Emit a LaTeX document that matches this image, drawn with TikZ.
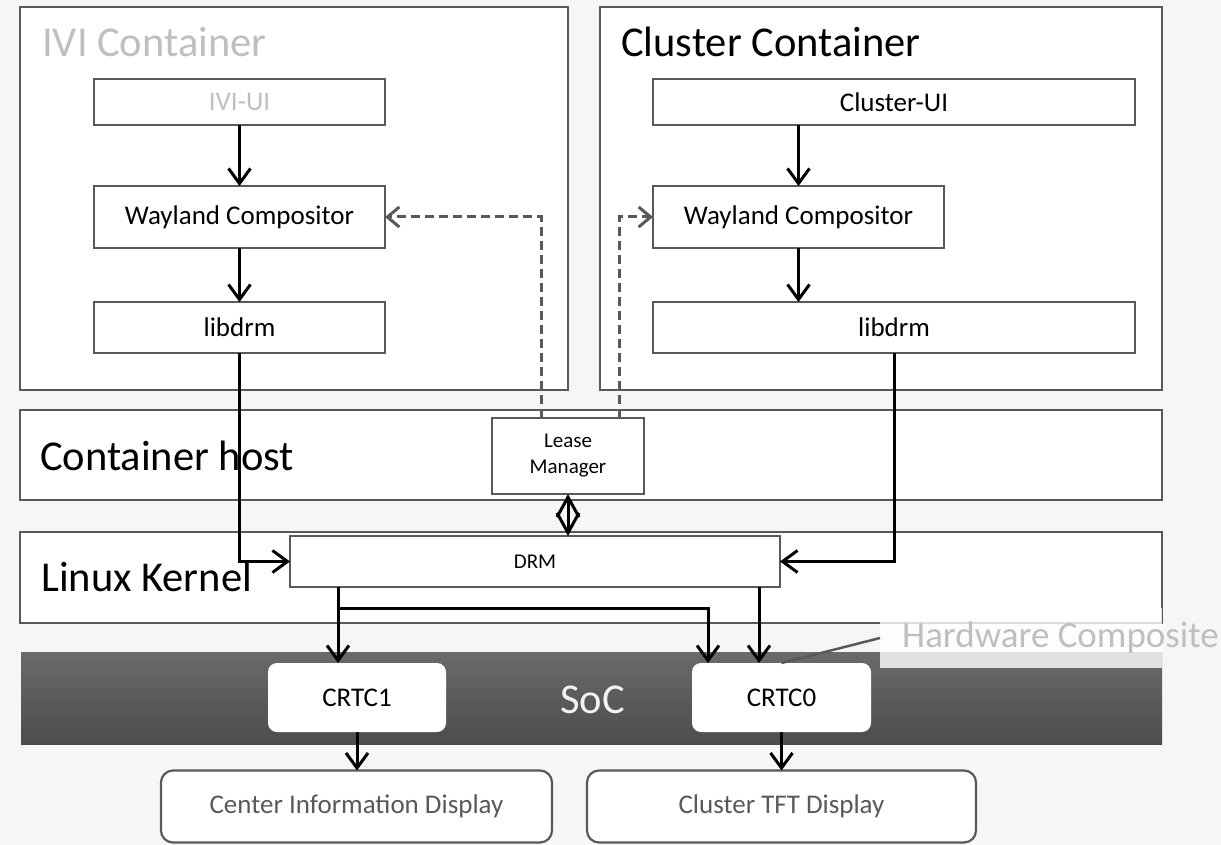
\documentclass[tikz,border=0pt]{standalone}
\usepackage{fontspec}
\setmainfont{Carlito}
\usetikzlibrary{arrows.meta}

\definecolor{edge}{HTML}{595959}
\definecolor{faint}{HTML}{BFBFBF}
\definecolor{paper}{HTML}{F6F6F6}
\definecolor{socTop}{HTML}{6A6A6A}
\definecolor{socBot}{HTML}{4C4C4C}
\definecolor{socText}{HTML}{F2F2F2}

\newcommand\bigtxt{\fontsize{42.5}{46}\selectfont}
\newcommand\midtxt{\fontsize{27}{31}\selectfont}
\newcommand\smalltxt{\fontsize{21}{26}\selectfont}

\begin{document}
\begin{tikzpicture}[x=1pt,y=-1pt,
  panel/.style={draw=edge, line width=2.2pt, fill=white, inner sep=0pt, outer sep=0pt, anchor=north west},
  block/.style={draw=edge, line width=2.2pt, fill=white, inner sep=0pt, outer sep=0pt, font=\midtxt},
  chip/.style={fill=white, rounded corners=9pt, inner sep=0pt, outer sep=0pt, font=\midtxt},
  screen/.style={draw=edge, line width=2.2pt, fill=white, rounded corners=12pt, inner sep=0pt, outer sep=0pt, font=\midtxt, text=edge},
  title/.style={anchor=base west, inner sep=0pt, font=\bigtxt},
  flow/.style={draw=black, line width=3pt, -{Straight Barb[length=15pt,width=22pt]}},
  lease/.style={draw=edge, line width=3pt, dash pattern=on 9pt off 5pt, -{Straight Barb[length=12pt,width=20pt]}},
  both/.style={draw=black, line width=3pt, {Straight Barb[length=20pt,width=22pt]}-{Straight Barb[length=20pt,width=22pt]}},
]
% page
\fill[paper] (0,0) rectangle (1221,845);
\useasboundingbox (0,0) rectangle (1221,845);

% layers
\node[panel, minimum width=548, minimum height=383] (ivi) at (20,7) {};
\node[panel, minimum width=562, minimum height=383] (cluster) at (600,7) {};
\node[panel, minimum width=1142, minimum height=90] (host) at (20,410) {};
\node[panel, minimum width=1142, minimum height=91] (kernel) at (20,532) {};
\node[anchor=north west, minimum width=1141, minimum height=92, inner sep=0pt,
      top color=socTop, bottom color=socBot] (soc) at (21,652) {};

\node[title, text=faint] (ivititle) at (42,57) {IVI Container};
\node[title] (cltitle) at (621,57) {Cluster Container};
\node[title] (hosttitle) at (40,470) {Container host};
\node[title] (kerneltitle) at (41,591) {Linux Kernel};
\node[title, text=socText] (soctitle) at (560,713) {SoC};

% components
\node[block, minimum width=291, minimum height=46, text=faint] (iviui) at (239.5,102) {IVI-UI};
\node[block, minimum width=291, minimum height=62] (iviwl) at (239.5,217) {Wayland Compositor};
\node[block, minimum width=291, minimum height=51] (ivilib) at (239.5,327.5) {libdrm};
\node[block, minimum width=482, minimum height=46] (clui) at (894,102) {Cluster-UI};
\node[block, minimum width=291, minimum height=62] (clwl) at (798.5,217) {Wayland Compositor};
\node[block, minimum width=482, minimum height=51] (cllib) at (894,327.5) {libdrm};
\node[block, minimum width=152, minimum height=76, font=\smalltxt, align=center] (lm) at (568,456) {Lease\\Manager};
\node[block, minimum width=490, minimum height=51, font=\smalltxt] (drm) at (535,561.5) {DRM};

\node[chip, minimum width=178, minimum height=69] (crtc1) at (357,697.5) {CRTC1};
\node[chip, minimum width=179, minimum height=69] (crtc0) at (781.5,697.5) {CRTC0};

\node[screen, minimum width=391, minimum height=72] (cid) at (356.5,806.5) {Center Information Display};
\node[screen, minimum width=389, minimum height=72] (tft) at (781.5,806.5) {Cluster TFT Display};

% lanes
\coordinate (laneA) at (338,0);
\coordinate (laneB) at (708,0);
\coordinate (laneC) at (759,0);
\coordinate (split) at (338,608);
\coordinate (leaseL) at (541,0);
\coordinate (leaseR) at (619,0);

% connectors
\draw[flow] (iviui.south) -- (iviwl.north);
\draw[flow] (iviwl.south) -- (ivilib.north);
\draw[flow] (clwl.north |- clui.south) -- (clwl.north);
\draw[flow] (clwl.south) -- (clwl.south |- cllib.north);
\draw[flow] (ivilib.south) |- (drm.west);
\draw[flow] (cllib.south) |- (drm.east);
\draw[both] (lm.south) -- (lm.south |- drm.north);
\draw[lease] (lm.north -| leaseL) |- (iviwl.east);
\draw[lease] (lm.north -| leaseR) |- (clwl.west);
\draw[flow] (drm.south -| laneA) -- (crtc1.north -| laneA);
\draw[flow] (split) -| (crtc0.north -| laneB);
\draw[flow] (drm.south -| laneC) -- (crtc0.north -| laneC);
\draw[flow] (crtc1.south) -- (crtc1.south |- cid.north);
\draw[flow] (crtc0.south) -- (crtc0.south |- tft.north);

% callout
\node[fill=white, fill opacity=0.8, minimum width=282, minimum height=60, anchor=north west,
      inner sep=0pt, outer sep=0pt] (hwbox) at (880,608) {};
\draw[edge, line width=2.5pt] (hwbox.west) -- (crtc0.north);
\node[anchor=base west, inner sep=0pt, font=\fontsize{37}{40}\selectfont, text=faint] (hwtext) at (902,647) {Hardware Composite};
\end{tikzpicture}
\end{document}
